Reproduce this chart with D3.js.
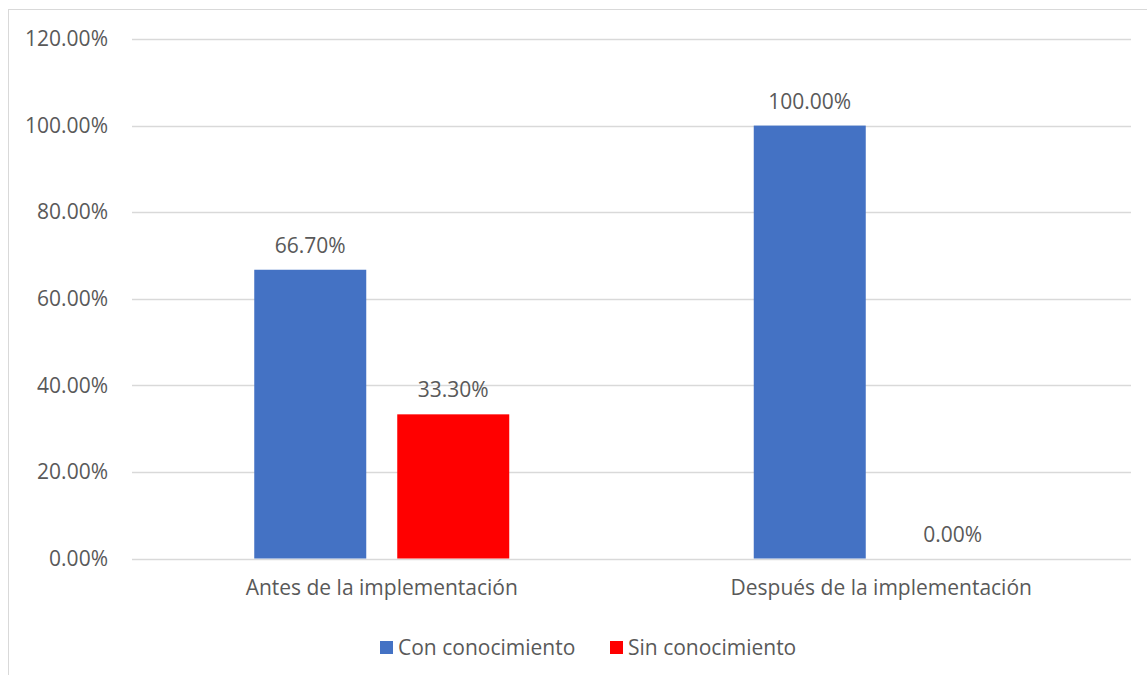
<!DOCTYPE html>
<html>
<head>
<meta charset="utf-8">
<script src="https://cdn.jsdelivr.net/npm/d3@7"></script>
<style>
  body { margin: 0; background: #fff; }
  text { font-family: "Open Sans", sans-serif; fill: #595959; }
</style>
</head>
<body>
<div id="chart"></div>
<script>
// data
var categories = ["Antes de la implementación", "Después de la implementación"];
var series = ["Con conocimiento", "Sin conocimiento"];
var conConocimiento = [0.667, 1.0];
var sinConocimiento = [0.333, 0.0];
var yTicks = [0, 0.2, 0.4, 0.6, 0.8, 1.0, 1.2];
var colors = ["#4472C4", "#FF0000"];

var width = 1147, height = 675;
var plot = {left: 132, right: 1131, top: 39, bottom: 558.5};

var svg = d3.select("#chart").append("svg")
    .attr("width", width)
    .attr("height", height);

// outer frame (cut off at the right and bottom)
svg.append("rect")
    .attr("x", 8.5).attr("y", 9.5)
    .attr("width", 1200).attr("height", 700)
    .attr("fill", "none")
    .attr("stroke", "#d9d9d9");

var x0 = d3.scaleBand()
    .domain(categories)
    .range([plot.left, plot.right]);

var x1 = d3.scaleBand()
    .domain(series)
    .range([x0.bandwidth()/2 - 127.5, x0.bandwidth()/2 + 127.5])
    .paddingInner(31/143);

var y = d3.scaleLinear()
    .domain([0, 1.2])
    .range([plot.bottom, plot.top]);

// gridlines
svg.append("g")
    .selectAll("line")
    .data(yTicks)
    .enter()
    .append("line")
        .attr("x1", plot.left)
        .attr("x2", plot.right)
        .attr("y1", function(d) { return Math.round(y(d)) + 0.5; })
        .attr("y2", function(d) { return Math.round(y(d)) + 0.5; })
        .attr("stroke", "#d9d9d9")
        .attr("stroke-width", 1.3);

// y axis labels
var yAxis = svg.append("g")
    .attr("transform", "translate(" + (plot.left - 24) + ",0)")
    .call(d3.axisLeft(y).tickValues(yTicks).tickSize(0).tickPadding(0)
        .tickFormat(function(d) { return (d * 100).toFixed(2) + "%"; }));
yAxis.select(".domain").remove();
yAxis.selectAll("text")
    .style("font-family", "'Open Sans', sans-serif")
    .style("font-size", "21px")
    .attr("fill", "#595959");

// x axis labels
var xAxis = svg.append("g")
    .attr("transform", "translate(0," + plot.bottom + ")")
    .call(d3.axisBottom(x0).tickSize(0).tickPadding(22));
xAxis.select(".domain").remove();
xAxis.selectAll("text")
    .style("font-family", "'Open Sans', sans-serif")
    .style("font-size", "21px")
    .attr("fill", "#595959");

var rows = categories.map(function(c, i) {
    return {cat: c, values: [conConocimiento[i], sinConocimiento[i]]};
});

var groups = svg.selectAll(".grp")
    .data(rows)
    .enter()
    .append("g")
        .attr("class", "grp")
        .attr("transform", function(d) { return "translate(" + x0(d.cat) + ",0)"; });

var cells = groups.selectAll(".cell")
    .data(function(d) { return d.values.map(function(v, j) { return {s: series[j], v: v, j: j}; }); })
    .enter()
    .append("g")
        .attr("class", "cell");

cells.append("rect")
    .attr("x", function(d) { return x1(d.s); })
    .attr("y", function(d) { return y(d.v); })
    .attr("width", x1.bandwidth())
    .attr("height", function(d) { return y(0) - y(d.v); })
    .attr("fill", function(d) { return colors[d.j]; });

cells.append("text")
    .attr("x", function(d) { return x1(d.s) + x1.bandwidth()/2; })
    .attr("y", function(d) { return y(d.v) - 17; })
    .attr("text-anchor", "middle")
    .style("font-size", "21px")
    .text(function(d) { return (d.v * 100).toFixed(2) + "%"; });

// legend
var legendX = [380, 610];
var legend = svg.selectAll(".legend")
    .data(series)
    .enter()
    .append("g")
        .attr("class", "legend")
        .attr("transform", function(d, i) { return "translate(" + legendX[i] + ",641)"; });
legend.append("rect")
    .attr("width", 13).attr("height", 13)
    .attr("fill", function(d, i) { return colors[i]; });
legend.append("text")
    .attr("x", 18)
    .attr("y", 14)
    .style("font-size", "21px")
    .text(function(d) { return d; });
</script>
</body>
</html>
